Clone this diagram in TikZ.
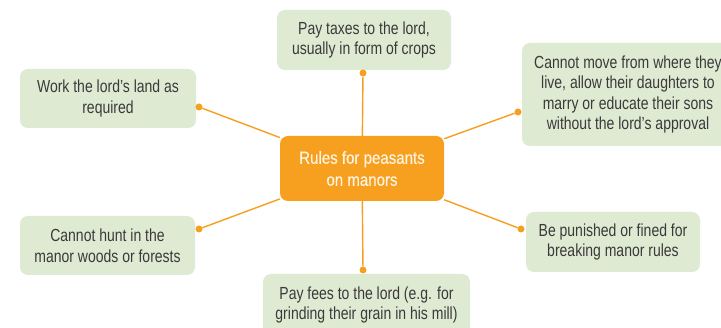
\documentclass[tikz,border=0pt]{standalone}
\usepackage{fontspec}
\setmainfont[FakeStretch=0.8]{Liberation Sans}
\newfontfamily\centerfont[FakeStretch=0.86,FakeBold=0.4]{Liberation Sans}
\definecolor{boxgreen}{HTML}{DFEAD3}
\definecolor{rulesorange}{HTML}{F79F1F}
\definecolor{textgray}{HTML}{3A3A3A}
\definecolor{cream}{HTML}{FFF4E2}
\begin{document}
\begin{tikzpicture}[x=1pt,y=-1pt,
  rulebox/.style={fill=boxgreen, rounded corners=8pt, inner sep=0pt, align=center,
    text=textgray, font=\fontsize{17.5}{20.5}\selectfont},
  centerbox/.style={fill=rulesorange, rounded corners=8pt, inner sep=0pt, align=center,
    text=cream, font=\centerfont\fontsize{17.5}{22}\selectfont,
    minimum width=164pt, minimum height=65pt},
  dotmark/.style={circle, fill=rulesorange, inner sep=0pt, minimum size=7pt},
  link/.style={draw=rulesorange, line width=1.4pt}]
\useasboundingbox (0,0) rectangle (721,328);
\clip (0,0) rectangle (721,328);
\fill[white] (0,0) rectangle (721,328);

\node[rulebox, minimum width=174pt, minimum height=60pt] (taxes) at (364,40)
  {Pay taxes to the lord,\\usually in form of crops};
\node[rulebox, minimum width=176pt, minimum height=59pt] (work) at (108,98.5)
  {Work the lord’s land as\\required};
\node[rulebox, minimum width=212pt, minimum height=103pt] (move) at (628,94.5)
  {Cannot move from where they\\live, allow their daughters to\\marry or educate their sons\\without the lord’s approval};
\node[rulebox, minimum width=175pt, minimum height=59pt] (hunt) at (107.5,245.5)
  {Cannot hunt in the\\manor woods or forests};
\node[rulebox, minimum width=174pt, minimum height=60pt] (punish) at (613,242)
  {Be punished or fined for\\breaking manor rules};
\node[rulebox, minimum width=207pt, minimum height=62pt] (fees) at (366.5,305)
  {Pay fees to the lord (e.g. for\\grinding their grain in his mill)};

\node[centerbox] (rules) at (362,168.5) {Rules for peasants\\on manors};

\node[dotmark] (dtaxes) at (363,73) {};
\node[dotmark] (dwork) at (199,107) {};
\node[dotmark] (dmove) at (518,112) {};
\node[dotmark] (dhunt) at (199,229) {};
\node[dotmark] (dpunish) at (521,229) {};
\node[dotmark] (dfees) at (363,270) {};

\draw[link] (rules) -- (dtaxes);
\draw[link] (rules) -- (dwork);
\draw[link] (rules) -- (dmove);
\draw[link] (rules) -- (dhunt);
\draw[link] (rules) -- (dpunish);
\draw[link] (rules) -- (dfees);
\end{tikzpicture}
\end{document}
